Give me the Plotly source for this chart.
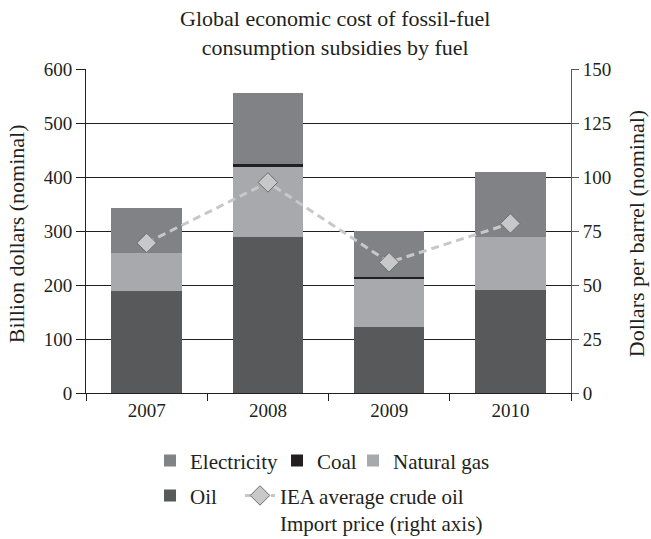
import plotly.graph_objects as go

# Global economic cost of fossil-fuel consumption subsidies (billion USD, nominal)
years = ["2007", "2008", "2009", "2010"]
oil = [188, 288, 123, 191]
natural_gas = [72, 131, 88, 97]
coal = [0, 5, 4, 0]
electricity = [82, 132, 85, 122]

# IEA average crude oil import price (USD per barrel, nominal)
crude_price = [69.5, 97.5, 60.5, 78.5]

left_ticks = [0, 100, 200, 300, 400, 500, 600]
right_ticks = [0, 25, 50, 75, 100, 125, 150]

FONT = "Liberation Serif"
INK = "#231f20"

fig = go.Figure()

fig.add_trace(go.Bar(x=years, y=oil, name="Oil", marker=dict(color="#58595b", line_width=0),
                     legend="legend2", legendrank=1, legendwidth=45))
fig.add_trace(go.Bar(x=years, y=natural_gas, name="Natural gas", marker=dict(color="#a7a9ac", line_width=0),
                     legend="legend", legendrank=3))
fig.add_trace(go.Bar(x=years, y=coal, name="Coal", marker=dict(color=INK, line_width=0),
                     legend="legend", legendrank=2, legendwidth=31))
fig.add_trace(go.Bar(x=years, y=electricity, name="Electricity", marker=dict(color="#808285", line_width=0),
                     legend="legend", legendrank=1, legendwidth=82))
fig.add_trace(go.Scatter(
    x=years, y=crude_price, yaxis="y2", mode="lines+markers",
    name="IEA average crude oil<br>Import price (right axis)",
    line=dict(color="#c8c8ca", width=3, dash="8px,5px"),
    marker=dict(symbol="diamond", size=15, color="#c8c8ca", line=dict(color="#6d6e71", width=1)),
    legend="legend2", legendrank=2,
))

fig.update_layout(
    width=651, height=539,
    margin=dict(l=86, r=80, t=69, b=146, autoexpand=False),
    paper_bgcolor="white", plot_bgcolor="white",
    font=dict(family=FONT, size=19, color=INK),
    barmode="stack", bargap=0.42,
    showlegend=True,
    xaxis=dict(
        type="category", tickson="boundaries", ticks="outside", ticklen=7, tickwidth=1,
        tickcolor=INK, showline=True, linecolor=INK, linewidth=1, showgrid=False,
        tickfont=dict(size=19, family=FONT, color=INK),
    ),
    yaxis=dict(
        range=[0, 600], tickvals=left_ticks, ticks="outside", ticklen=9, tickwidth=1,
        tickcolor=INK, showline=True, linecolor=INK, linewidth=1,
        showgrid=True, gridcolor=INK, gridwidth=1, zeroline=False,
        tickfont=dict(size=19, family=FONT, color=INK),
    ),
    yaxis2=dict(
        range=[0, 150], tickvals=right_ticks, overlaying="y", side="right",
        ticks="outside", ticklen=7, tickwidth=1, tickcolor="#58595b",
        showline=True, linecolor="#58595b", linewidth=1, showgrid=False, zeroline=False,
        tickfont=dict(size=19, family=FONT, color=INK),
    ),
    legend=dict(
        orientation="h", x=0.132, xanchor="left", y=-0.146, yanchor="top",
        font=dict(size=21, family=FONT, color=INK), bgcolor="rgba(0,0,0,0)",
        traceorder="normal", itemclick=False,
    ),
    legend2=dict(
        orientation="h", x=0.132, xanchor="left", y=-0.254, yanchor="top",
        font=dict(size=21, family=FONT, color=INK), bgcolor="rgba(0,0,0,0)",
        traceorder="normal", valign="top", itemclick=False,
    ),
    annotations=[
        dict(text="Global economic cost of fossil-fuel<br>consumption subsidies by fuel",
             xref="paper", yref="paper",
             x=0.513, y=(393 - 33) / 324, xanchor="center", yanchor="middle",
             showarrow=False, font=dict(size=22, family=FONT, color=INK)),
        dict(text="Billion dollars (nominal)", xref="paper", yref="paper",
             x=(16 - 86) / 485, y=0.49, xanchor="center", yanchor="middle",
             textangle=-90, showarrow=False, font=dict(size=22, family=FONT, color=INK)),
        dict(text="Dollars per barrel (nominal)", xref="paper", yref="paper",
             x=(636 - 86) / 485, y=0.49, xanchor="center", yanchor="middle",
             textangle=-90, showarrow=False, font=dict(size=22, family=FONT, color=INK)),
    ],
)

fig.write_html("out.html")
